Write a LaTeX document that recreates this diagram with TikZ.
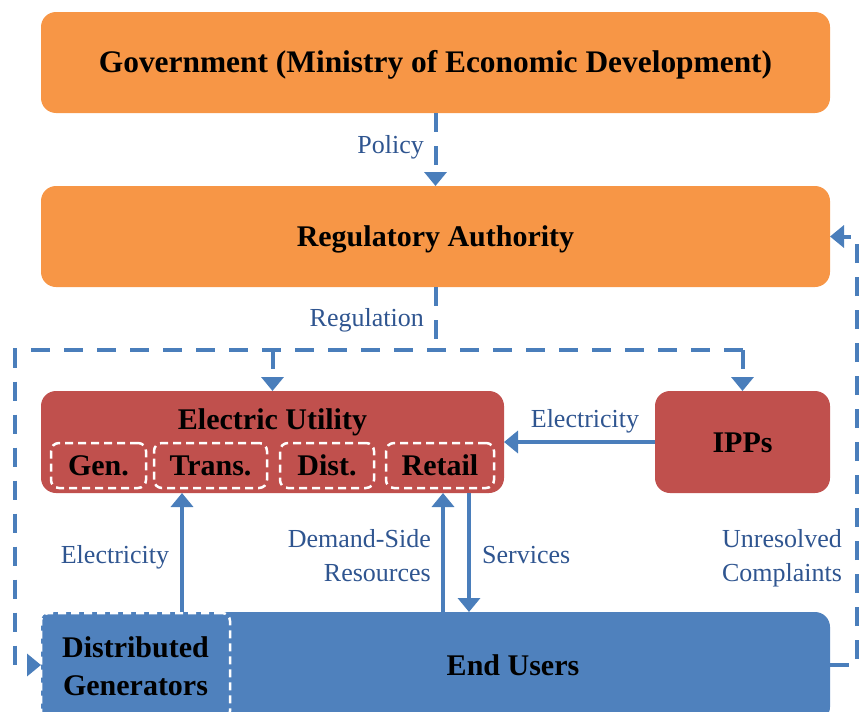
\documentclass[tikz,border=0pt]{standalone}
\usepackage{fontspec}
\setmainfont{Liberation Serif}
\usetikzlibrary{arrows.meta}
\definecolor{orgbox}{HTML}{F79646}
\definecolor{redbox}{HTML}{C0504D}
\definecolor{bluebox}{HTML}{4F81BD}
\definecolor{arrowc}{HTML}{4A7EBB}
\definecolor{labc}{HTML}{2F5590}
\begin{document}
\begin{tikzpicture}[x=1pt,y=-1pt,
  bigbox/.style={rectangle, rounded corners=15pt, inner sep=0pt, outer sep=0pt, draw=none},
  subbox/.style={rectangle, rounded corners=8pt, inner sep=0pt, outer sep=0pt, draw=white, line width=2.5pt, dash pattern=on 8pt off 5pt},
  titlefont/.style={font=\fontsize{30}{34}\selectfont\bfseries, text=black, align=center},
  titletext/.style={titlefont, text height=20pt, text depth=0pt},
  labfont/.style={font=\fontsize{26}{34}\selectfont, text=labc, inner sep=0pt},
  labtext/.style={labfont, text height=17.5pt, text depth=0pt},
  tip/.style={-{Triangle[width=22pt,length=14pt]}},
  dline/.style={draw=arrowc, line width=4pt, dash pattern=on 19pt off 14pt},
  sline/.style={draw=arrowc, line width=4pt}
]
\useasboundingbox (0,0) rectangle (860,712);

% boxes
\node[bigbox, fill=orgbox, minimum width=789pt, minimum height=101pt, titletext, font=\fontsize{31.4}{34}\selectfont\bfseries] (gov) at (435.5,62.5) {Government (Ministry of Economic Development)};
\node[bigbox, fill=orgbox, minimum width=789pt, minimum height=101pt, titletext] (ra) at (435.5,236.5) {Regulatory Authority};
\node[bigbox, fill=redbox, minimum width=463pt, minimum height=102pt] (eu) at (272.5,442) {};
\node[titletext] (eutitle) at (272.5,419) {Electric Utility};
\node[subbox, minimum width=95pt, minimum height=45pt, titletext] (gen) at (98.5,465.5) {Gen.};
\node[subbox, minimum width=113pt, minimum height=45pt, titletext] (trans) at (210.5,465.5) {Trans.};
\node[subbox, minimum width=94pt, minimum height=45pt, titletext] (dist) at (327,465.5) {Dist.};
\node[subbox, minimum width=108pt, minimum height=45pt, titletext] (retail) at (440,465.5) {Retail};
\node[bigbox, fill=redbox, minimum width=175pt, minimum height=102pt, titletext] (ipp) at (742.5,442) {IPPs};
\node[bigbox, fill=bluebox, minimum width=789pt, minimum height=110pt] (eub) at (435.5,667) {};
\node[titletext] (eutxt) at (513,665) {End Users};
\node[subbox, fill=bluebox, minimum width=189pt, minimum height=106pt, titlefont, font=\fontsize{30}{38}\selectfont\bfseries] (dg) at (135.5,666) {Distributed\\Generators};

% coordinates
\coordinate (rl) at (15,350);
\coordinate (c1) at (182,0);
\coordinate (c2) at (443,0);
\coordinate (c3) at (469,0);
\coordinate (cr) at (857,0);

% policy
\draw[dline, tip] (gov.south) -- (ra.south |- ra.north);
% regulation
\draw[dline] (ra.south) -- (ra.south |- rl);
\draw[dline, tip] (eu.north |- rl) -- (eu.north);
\draw[dline, tip] (ipp.north |- rl) -- (ipp.north);
\draw[dline, tip] (ipp.north |- rl) -- (rl) -- (rl |- eutxt) -- (dg.west |- eutxt);
% electricity from IPPs
\draw[sline, tip] (ipp.west) -- (eu.east);
% distributed generators to utility
\draw[sline, tip] (eub.north -| c1) -- (eu.south -| c1);
% demand side resources
\draw[sline, tip] (eub.north -| c2) -- (eu.south -| c2);
% services
\draw[sline, tip] (eu.south -| c3) -- (eub.north -| c3);
% unresolved complaints
\draw[dline, tip] (eub.east |- eutxt) -- (cr |- eutxt) -- (cr |- ra.east) -- (ra.east);

% labels
\node[labtext, anchor=east] (lpol) at (424,145) {Policy};
\node[labtext, anchor=east] (lreg) at (424,318) {Regulation};
\node[labtext] (lel1) at (585,419) {Electricity};
\node[labtext] (lel2) at (115,555) {Electricity};
\node[labfont, anchor=east, align=right] (ldsr) at (431,556) {Demand-Side\\Resources};
\node[labtext, anchor=west] (lserv) at (482,555) {Services};
\node[labfont, align=center] (lunr) at (782,558) {Unresolved\\Complaints};
\end{tikzpicture}
\end{document}
